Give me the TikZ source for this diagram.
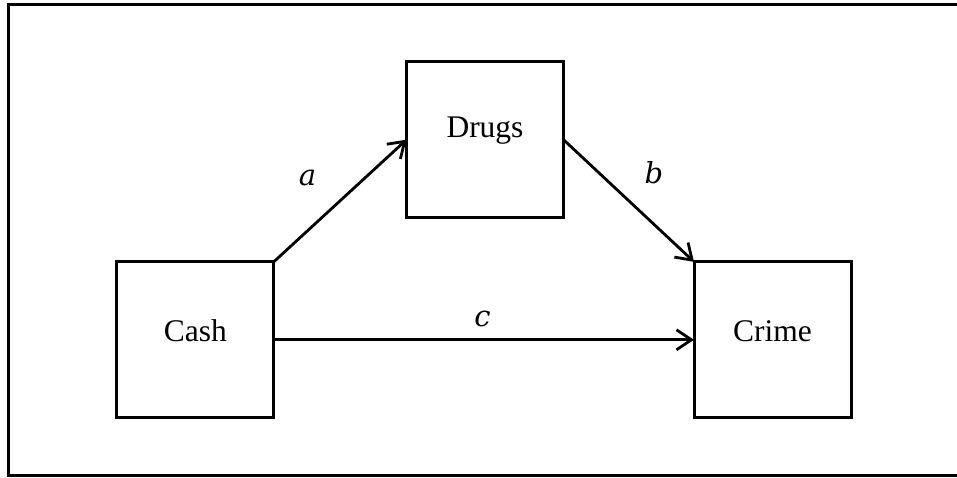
\documentclass[tikz,border=0pt]{standalone}
\usepackage{fontspec}
\setmainfont{Liberation Serif}
\newfontfamily\coeffont{DejaVu Serif}
\usetikzlibrary{arrows.meta}
\begin{document}
\begin{tikzpicture}[x=1pt,y=-1pt,
  box/.style={draw,line width=3pt,minimum width=157pt,minimum height=156pt,inner sep=0pt,outer sep=0pt},
  lbl/.style={anchor=base,inner sep=0pt,font=\fontsize{31.5}{36}\selectfont},
  coef/.style={anchor=base,inner sep=0pt,font=\coeffont\itshape\fontsize{29}{34}\selectfont},
  arr/.style={line width=2.8pt,-{Straight Barb[length=15pt,width=20pt]}},
  frame/.style={line width=3pt}]
\clip (0,0) rectangle (957,478);
\fill[white] (0,0) rectangle (957,478);
\draw[frame] (980,4.3) -- (8.5,4.3) -- (8.5,475.5) -- (980,475.5);
\node[box] (cash) at (195.3,339.8) {};
\node[box] (drugs) at (485,139.7) {};
\node[box] (crime) at (772.5,339.8) {};
\node[lbl] (cashT) at ([yshift=-2pt]cash.center) {Cash};
\node[lbl] (drugsT) at ([yshift=2pt]drugs.center) {Drugs};
\node[lbl] (crimeT) at ([yshift=-2pt]crime.center) {Crime};
\draw[arr] (cash.north east) -- (drugs.west);
\draw[arr] (drugs.east) -- (crime.north west);
\draw[arr] (cash.east) -- (crime.west);
\node[coef] (la) at (307.5,185.7) {a};
\node[coef] (lb) at (654,184) {b};
\node[coef] (lc) at (482.5,326.7) {c};
\end{tikzpicture}
\end{document}
